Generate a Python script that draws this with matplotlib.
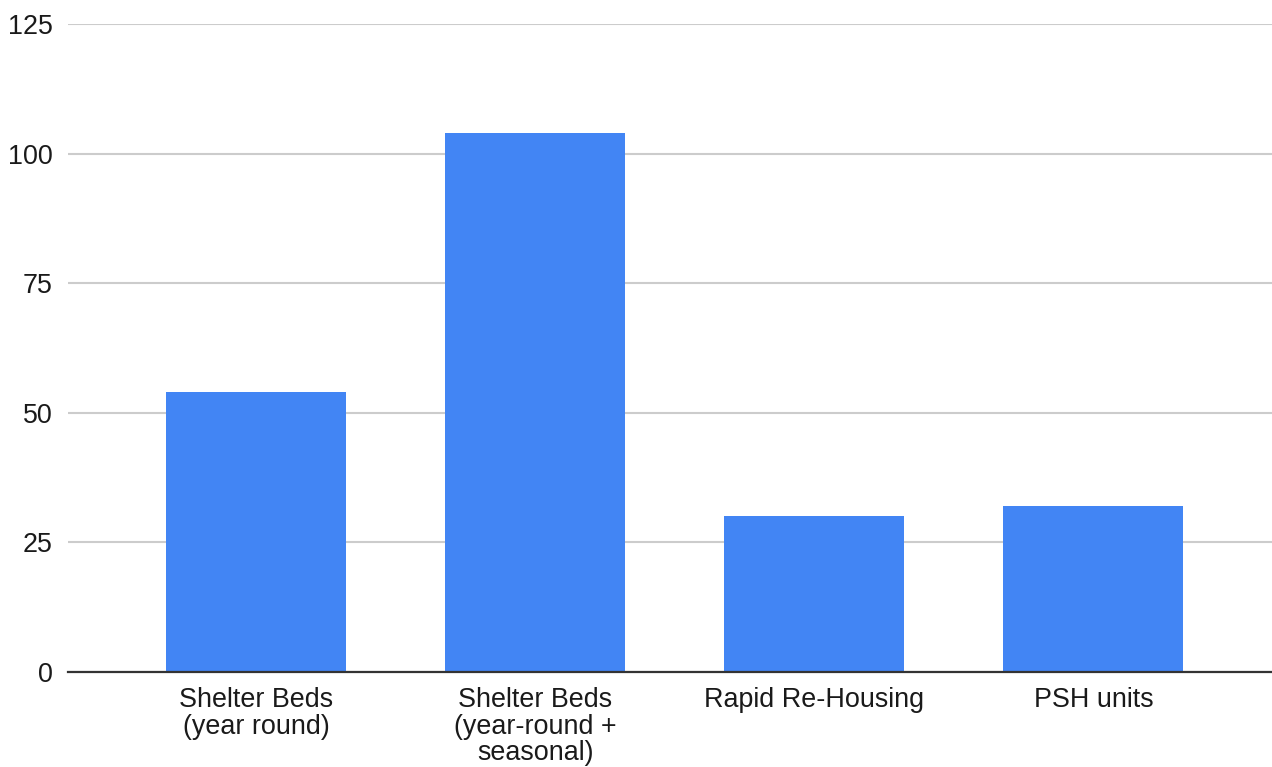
import matplotlib
matplotlib.use("Agg")
import matplotlib.pyplot as plt

categories = ["Shelter Beds\n(year round)", "Shelter Beds\n(year-round +\nseasonal)",
              "Rapid Re-Housing", "PSH units"]
values = [54, 104, 30, 32]
y_ticks = [0, 25, 50, 75, 100, 125]

plt.rcParams['font.family'] = ['Liberation Sans', 'DejaVu Sans']

W, H = 1272, 767
fig = plt.figure(figsize=(W / 100, H / 100), dpi=100)
ax = fig.add_axes([68 / W, (H - 672) / H, (W - 68) / W, (672 - 24) / H])

x = list(range(len(categories)))
ax.bar(x, values, width=0.645, color="#4285F4", zorder=3)

ax.set_ylim(0, 125)
ax.set_xlim(-0.674, 3.64)
ax.set_yticks(y_ticks)
ax.set_yticklabels([str(v) for v in y_ticks])
ax.set_xticks(x)
ax.set_xticklabels(categories, linespacing=1.03, va="top")

ax.grid(axis="y", color="#CCCCCC", linewidth=1.5, zorder=0)
ax.grid(axis="x", visible=False)
for side in ["top", "right", "left"]:
    ax.spines[side].set_visible(False)
ax.spines["bottom"].set_color("#333333")
ax.spines["bottom"].set_linewidth(1.6)
ax.spines["bottom"].set_zorder(4)

ax.tick_params(axis="y", length=0, pad=11, labelsize=19.4, labelcolor="#1a1a1a")
ax.tick_params(axis="x", length=0, pad=11, labelsize=19.4, labelcolor="#1a1a1a")

fig.savefig("out.png", dpi=100, facecolor="white")
